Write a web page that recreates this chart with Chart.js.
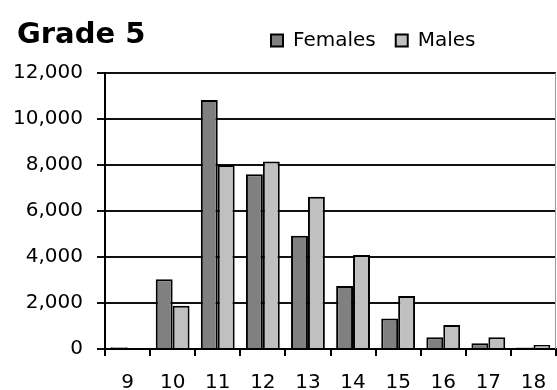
<!DOCTYPE html>
<html>
<head>
<meta charset="utf-8">
<script src="https://cdn.jsdelivr.net/npm/chart.js@4/dist/chart.umd.min.js"></script>
<style>
  html, body { margin: 0; padding: 0; background: #fff; }
  #wrap { width: 557px; height: 390px; }
</style>
</head>
<body>
<div id="wrap"><canvas id="chart" width="557" height="390"></canvas></div>
<script>
// Student counts by age, Grade 5
const ages = ['9', '10', '11', '12', '13', '14', '15', '16', '17', '18'];
const females = [80, 3030, 10830, 7600, 4920, 2740, 1330, 510, 250, 70];
const males = [0, 1880, 8000, 8150, 6620, 4090, 2300, 1040, 510, 170];
const yTicks = [0, 2000, 4000, 6000, 8000, 10000, 12000];

const FONT = 'DejaVu Sans';

// Moves the title and legend blocks so the legend sits beside the title
const headerPlacement = {
  id: 'headerPlacement',
  afterLayout(chart, args, opts) {
    const lg = chart.legend;
    if (lg) {
      lg.left += opts.legendDx; lg.right += opts.legendDx;
      lg.top += opts.legendDy; lg.bottom += opts.legendDy;
    }
    const tb = chart.titleBlock;
    if (tb) {
      tb.left += opts.titleDx; tb.right += opts.titleDx;
    }
  }
};

// Thin frame line along the right side of the plot
const rightEdge = {
  id: 'rightEdge',
  beforeDatasetsDraw(chart, args, opts) {
    const {ctx, chartArea} = chart;
    ctx.save();
    ctx.strokeStyle = opts.color;
    ctx.lineWidth = 1;
    ctx.beginPath();
    ctx.moveTo(chartArea.right - 0.5, chartArea.top);
    ctx.lineTo(chartArea.right - 0.5, chartArea.bottom);
    ctx.stroke();
    ctx.restore();
  }
};

new Chart(document.getElementById('chart'), {
  type: 'bar',
  data: {
    labels: ages,
    datasets: [
      { label: 'Females', data: females, backgroundColor: '#808080', borderColor: '#000', borderWidth: 2 },
      { label: 'Males', data: males, backgroundColor: '#c0c0c0', borderColor: '#000', borderWidth: 2 }
    ]
  },
  options: {
    responsive: false,
    animation: false,
    devicePixelRatio: 1,
    datasets: { bar: { categoryPercentage: 0.75, barPercentage: 1.0 } },
    layout: { padding: { left: 0, right: 1, top: 0, bottom: 0 } },
    plugins: {
      title: {
        display: true,
        text: 'Grade 5',
        align: 'start',
        color: '#000',
        font: { family: FONT, size: 29, weight: 'bold', lineHeight: 1 },
        padding: { top: 20.5, bottom: -26.5 }
      },
      legend: {
        display: true,
        position: 'top',
        align: 'start',
        labels: {
          color: '#000',
          font: { family: FONT, size: 20 },
          boxWidth: 12,
          boxHeight: 12,
          padding: 20
        }
      },
      tooltip: { enabled: false },
      headerPlacement: { legendDx: 251, legendDy: -12.5, titleDx: 17 },
      rightEdge: { color: '#999' }
    },
    scales: {
      x: {
        offset: true,
        afterFit: scale => { scale.height = 41; scale.paddingLeft = 0; scale.paddingRight = 0; },
        grid: {
          display: true,
          offset: true,
          drawOnChartArea: false,
          color: '#000',
          lineWidth: 2,
          tickLength: 7
        },
        border: { display: true, color: '#000', width: 2 },
        ticks: {
          color: '#000',
          font: { family: FONT, size: 20, lineHeight: 1.2 },
          padding: 15,
          maxRotation: 0,
          autoSkip: false
        }
      },
      y: {
        min: 0,
        max: 12000,
        afterFit: scale => { scale.width = 105; },
        afterBuildTicks: axis => { axis.ticks = yTicks.map(v => ({ value: v })); },
        grid: {
          color: '#111',
          lineWidth: 2,
          tickLength: 8
        },
        border: { display: true, color: '#000', width: 2 },
        ticks: {
          color: '#000',
          font: { family: FONT, size: 20 },
          padding: 14,
          callback: v => v.toLocaleString('en-US')
        }
      }
    }
  },
  plugins: [headerPlacement, rightEdge]
});
</script>
</body>
</html>
